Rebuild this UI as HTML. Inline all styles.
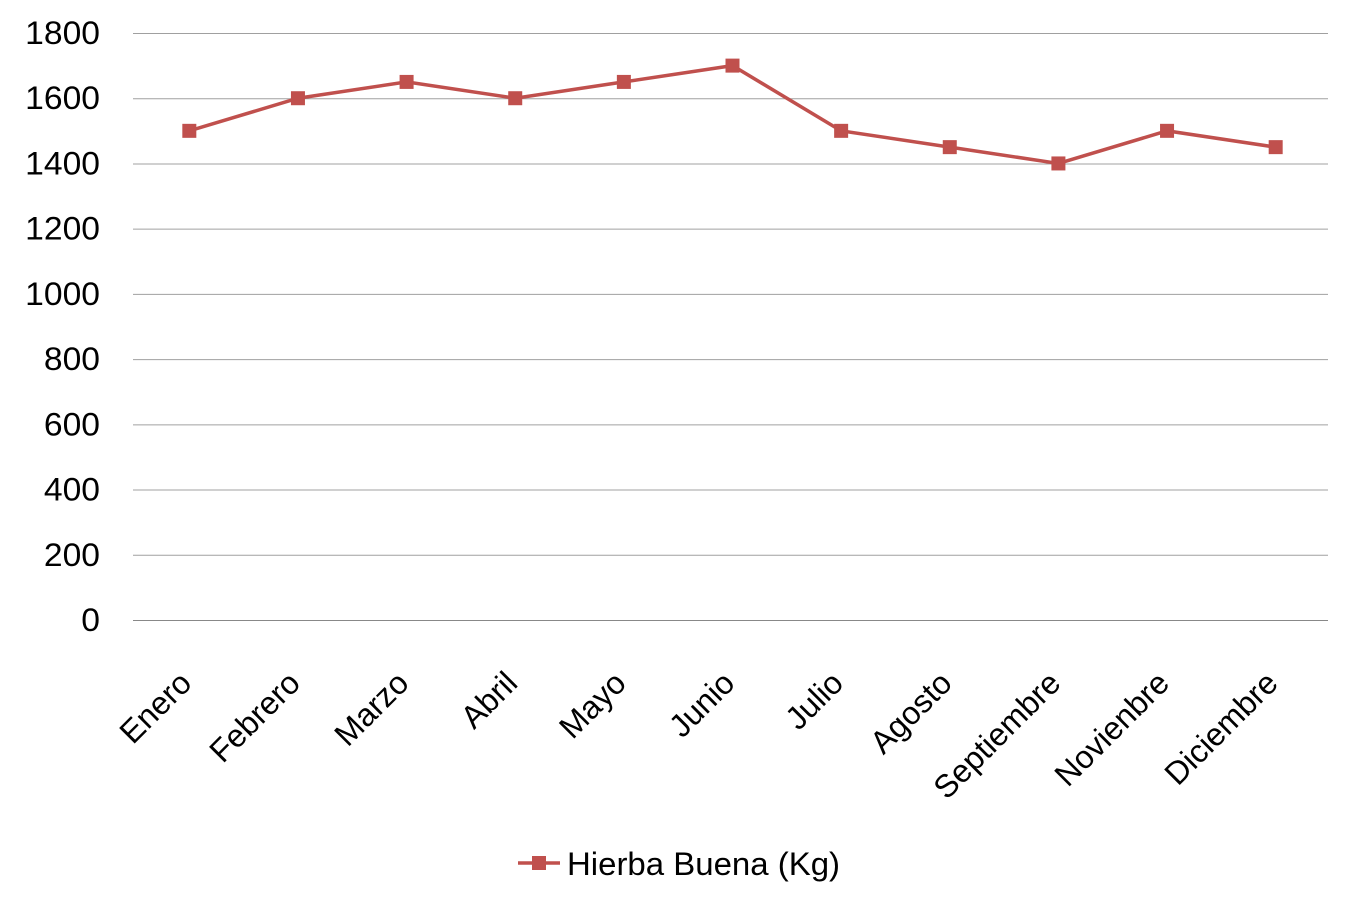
<!DOCTYPE html>
<html><head><meta charset="utf-8"><style>
body{margin:0;background:#fff;}
svg text{font-family:"Liberation Sans",sans-serif;fill:#000;}
</style></head><body>
<svg id="chart" width="1352" height="906"></svg>
<script>
const categories=["Enero","Febrero","Marzo","Abril","Mayo","Junio","Julio","Agosto","Septiembre","Novienbre","Diciembre"];
const values=[1500,1600,1650,1600,1650,1700,1500,1450,1400,1500,1450];
const yTicks=[0,200,400,600,800,1000,1200,1400,1600,1800];
const seriesName="Hierba Buena (Kg)";
const NS="http://www.w3.org/2000/svg";
const svg=document.getElementById('chart');
const x0=133,x1=1328,yTop=33,yBot=620,yMax=1800;
const bw=(x1-x0)/categories.length;
function xs(i){return x0+2+bw*(i+0.5);}
function ys(v){return yBot-(v/yMax)*(yBot-yTop);}
function mk(t,a){const e=document.createElementNS(NS,t);for(const k in a)e.setAttribute(k,a[k]);svg.appendChild(e);return e;}
yTicks.forEach(v=>{
  const g=mk('line',{x1:x0,x2:x1,y1:ys(v)+0.5,y2:ys(v)+0.5,stroke:v===0?'#888':'#a0a0a0','stroke-width':1});
  
  
  const t=mk('text',{x:100,y:ys(v)+11,'text-anchor':'end','font-size':32,textLength:String(v).length*18.7,lengthAdjust:'spacingAndGlyphs'});
  t.textContent=v;
  
  
});
categories.forEach((c,i)=>{
  const x=xs(i)+4,y=685;
  const t=mk('text',{x:x,y:y,'text-anchor':'end','font-size':32,transform:`rotate(-45 ${x} ${y})`});
  t.textContent=c;
  
  
});
const pl=mk('polyline',{points:values.map((v,i)=>xs(i)+','+ys(v)).join(' '),fill:'none',stroke:'#c0504d','stroke-width':3.5});


values.forEach((v,i)=>{
  const r=mk('rect',{x:xs(i)-7,y:ys(v)-7,width:14,height:14,fill:'#c0504d'});
  
  
});
const ll=mk('line',{x1:518,x2:560,y1:863,y2:863,stroke:'#c0504d','stroke-width':3.5});


const lm=mk('rect',{x:532,y:856,width:14,height:14,fill:'#c0504d'});


const lt=mk('text',{x:567,y:875,'font-size':32,textLength:273,lengthAdjust:'spacingAndGlyphs'});
lt.textContent=seriesName;


</script>
</body></html>
